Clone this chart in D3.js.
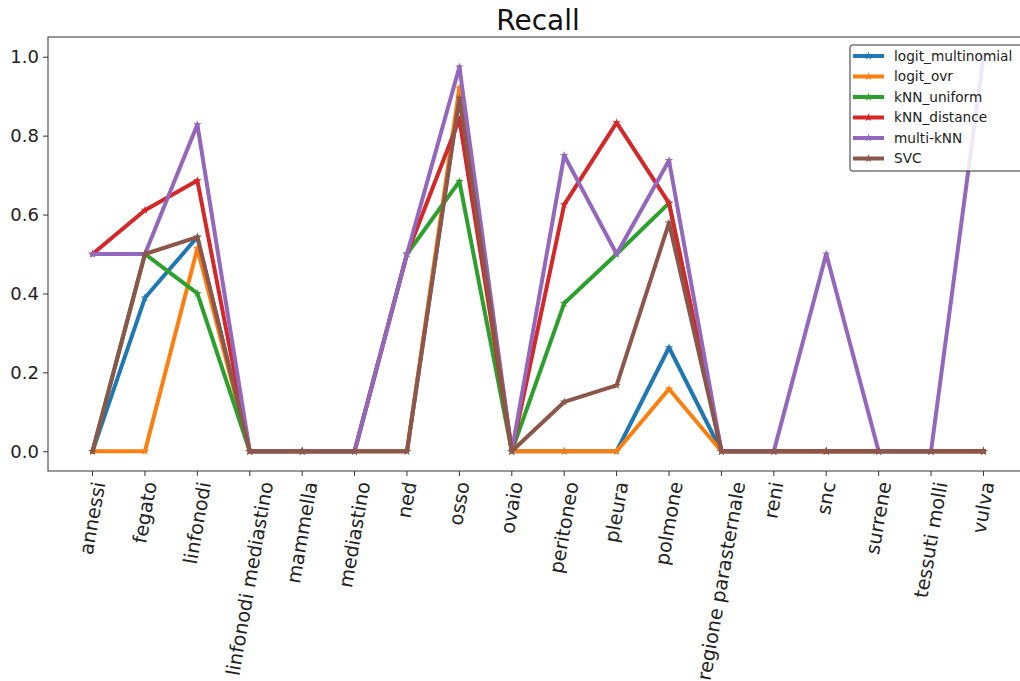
<!DOCTYPE html>
<html>
<head>
<meta charset="utf-8">
<script src="https://cdn.jsdelivr.net/npm/d3@7"></script>
<style>
  body { margin: 0; background: #fff; }
  svg { display: block; font-family: "DejaVu Sans", sans-serif; }
</style>
</head>
<body>
<div id="chart"></div>
<script>
// Data
const categories = ["annessi", "fegato", "linfonodi", "linfonodi mediastino", "mammella",
  "mediastino", "ned", "osso", "ovaio", "peritoneo", "pleura", "polmone",
  "regione parasternale", "reni", "snc", "surrene", "tessuti molli", "vulva"]
const seriesNames = ["logit_multinomial", "logit_ovr", "kNN_uniform", "kNN_distance", "multi-kNN", "SVC"]
const logitMultinomial = [0, 0.389, 0.543, 0, 0, 0, 0, 0.9, 0, 0, 0, 0.263, 0, 0, 0, 0, 0, 0]
const logitOvr = [0, 0, 0.514, 0, 0, 0, 0, 0.921, 0, 0, 0, 0.158, 0, 0, 0, 0, 0, 0]
const knnUniform = [0, 0.5, 0.4, 0, 0, 0, 0.5, 0.684, 0, 0.375, 0.5, 0.629, 0, 0, 0, 0, 0, 0]
const knnDistance = [0.5, 0.611, 0.686, 0, 0, 0, 0.5, 0.842, 0, 0.625, 0.833, 0.629, 0, 0, 0, 0, 0, 0]
const multiKnn = [0.5, 0.5, 0.828, 0, 0, 0, 0.5, 0.974, 0, 0.75, 0.5, 0.737, 0, 0, 0.5, 0, 0, 1.0]
const svc = [0, 0.5, 0.543, 0, 0, 0, 0, 0.895, 0, 0.125, 0.167, 0.579, 0, 0, 0, 0, 0, 0]
const yTicks = [0, 0.2, 0.4, 0.6, 0.8, 1.0]
const colours = ["#1f77b4", "#ff7f0e", "#2ca02c", "#d62728", "#9467bd", "#8c564b"]

const series = [logitMultinomial, logitOvr, knnUniform, knnDistance, multiKnn, svc]
  .map((values, i) => ({name: seriesNames[i], values: values}))

// Chart parameters
const WIDTH = 1020
const HEIGHT = 681
const PLOT = {LEFT: 48, RIGHT: 1028, TOP: 37, BOTTOM: 471}

const svg = d3.select("#chart").append("svg")
  .attr("width", WIDTH)
  .attr("height", HEIGHT)

// Scales (matplotlib style 5% margins)
const x = d3.scaleLinear()
  .domain([-0.85, categories.length - 1 + 0.85])
  .range([PLOT.LEFT, PLOT.RIGHT])
const y = d3.scaleLinear()
  .domain([-0.05, 1.05])
  .range([PLOT.BOTTOM, PLOT.TOP])

// Lines + star markers, one series at a time
const line = d3.line()
  .x((d, i) => x(i))
  .y(d => y(d))
const star = d3.symbol().type(d3.symbolStar).size(22)

const plot = svg.append("g")
series.forEach((s, k) => {
  const g = plot.append("g")
  g.append("path")
    .datum(s.values)
    .attr("d", line)
    .attr("fill", "none")
    .attr("stroke", colours[k])
    .attr("stroke-width", 4)
    .attr("stroke-linejoin", "round")
    .attr("stroke-linecap", "square")
  g.selectAll("path.marker")
    .data(s.values)
    .enter()
    .append("path")
    .attr("class", "marker")
    .attr("d", star)
    .attr("transform", (d, i) => `translate(${x(i)},${y(d)})`)
    .attr("fill", colours[k])
})

// Frame
svg.append("rect")
  .attr("x", PLOT.LEFT)
  .attr("y", PLOT.TOP)
  .attr("width", PLOT.RIGHT - PLOT.LEFT)
  .attr("height", PLOT.BOTTOM - PLOT.TOP)
  .attr("fill", "none")
  .attr("stroke", "#333")
  .attr("stroke-width", 1)

// Y axis
const yAxis = svg.append("g")
  .attr("transform", `translate(${PLOT.LEFT},0)`)
  .call(d3.axisLeft(y).tickValues(yTicks).tickFormat(d3.format(".1f")).tickSize(5).tickPadding(4))
yAxis.select(".domain").remove()
yAxis.selectAll("line").attr("stroke", "#333")
yAxis.selectAll("text")
  .attr("font-size", 18)
  .attr("font-family", "DejaVu Sans")
  .attr("fill", "#222")

// X axis ticks
const xAxis = svg.append("g")
  .attr("transform", `translate(0,${PLOT.BOTTOM})`)
xAxis.selectAll("line")
  .data(categories)
  .enter()
  .append("line")
  .attr("x1", (d, i) => x(i))
  .attr("x2", (d, i) => x(i))
  .attr("y1", 0)
  .attr("y2", 5)
  .attr("stroke", "#333")

// Rotated x labels, centred on the tick like matplotlib (ha=center, va=top)
categories.forEach((c, i) => {
  const lg = xAxis.append("g")
  lg.append("text")
    .attr("text-anchor", "end")
    .attr("dy", "0.35em")
    .attr("transform", "rotate(-80)")
    .attr("font-size", 19.3)
    .attr("fill", "#222")
    .text(c)
  const b = lg.node().getBBox()
  lg.attr("transform", `translate(${x(i) - (b.x + b.width / 2)},${9 - b.y})`)
})

// Title
svg.append("text")
  .attr("x", (PLOT.LEFT + PLOT.RIGHT) / 2)
  .attr("y", 30)
  .attr("text-anchor", "middle")
  .attr("font-size", 28)
  .attr("fill", "#111")
  .text("Recall")

// Legend
const legend = svg.append("g")
  .attr("transform", "translate(850,45)")
legend.append("rect")
  .attr("width", 175)
  .attr("height", 126)
  .attr("rx", 2)
  .attr("fill", "rgba(255,255,255,0.85)")
  .attr("stroke", "#333")
  .attr("stroke-width", 1)
series.forEach((s, k) => {
  const ly = 11 + k * 20.5
  legend.append("line")
    .attr("x1", 3)
    .attr("x2", 34)
    .attr("y1", ly)
    .attr("y2", ly)
    .attr("stroke", colours[k])
    .attr("stroke-width", 4)
  legend.append("path")
    .attr("d", star)
    .attr("transform", `translate(18.5,${ly})`)
    .attr("fill", colours[k])
  legend.append("text")
    .attr("x", 44)
    .attr("y", ly)
    .attr("dy", "0.35em")
    .attr("font-size", 13.7)
    .attr("fill", "#222")
    .text(s.name)
})
</script>
</body>
</html>
